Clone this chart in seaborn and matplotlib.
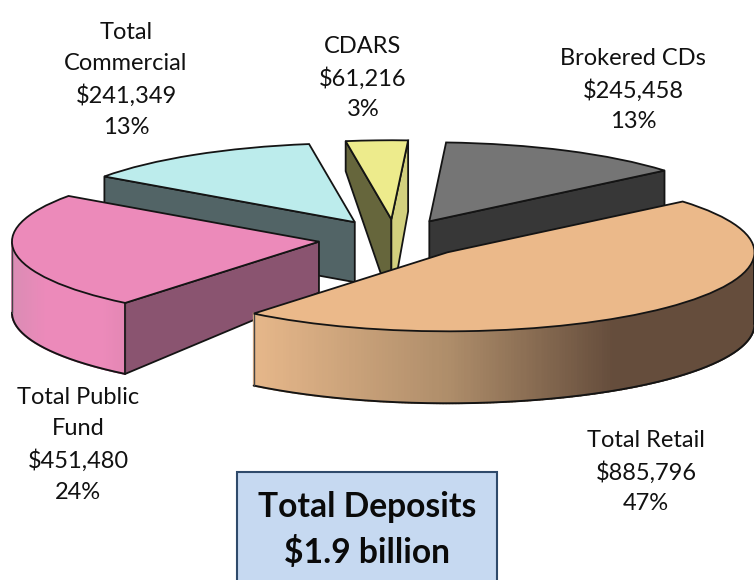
import numpy as np
import matplotlib
matplotlib.use('Agg')
import matplotlib.pyplot as plt
import seaborn as sns
from matplotlib.colors import LinearSegmentedColormap
from matplotlib.patches import Rectangle

names = ['Brokered CDs', 'CDARS', 'Total\nCommercial', 'Total Public\nFund', 'Total Retail']
values = [245458, 61216, 241349, 451480, 885796]
amounts = ['$245,458', '$61,216', '$241,349', '$451,480', '$885,796']
percents = ['13%', '3%', '13%', '24%', '47%']
total_text = 'Total Deposits\n$1.9 billion'

top_colors = ['#757575', '#EDEB8C', '#BCECEC', '#EC8ABA', '#EBB98A']
label_pos = [(633, 90), (363, 78), (126, 80), (78, 445), (646, 472)]

W, H = 754, 580
CX, CY, RX, RY = 395, 239, 307, 79
EDGE = '#141414'

sns.set_theme(style='white')
plt.rcParams['font.family'] = ['Lato', 'DejaVu Sans']

fig = plt.figure(figsize=(W / 100, H / 100), dpi=100, facecolor='white')
ax = fig.add_axes([0, 0, 1, 1])

wedges, _ = ax.pie(values, startangle=40, counterclock=True,
                   explode=[0.25, 0.25, 0.25, 0.25, 0.24],
                   colors=sns.color_palette(top_colors),
                   wedgeprops={'edgecolor': EDGE, 'linewidth': 1.3})
ax.set_aspect('auto')
ax.set_xlim(-CX / RX, (W - CX) / RX)
ax.set_ylim((CY - H) / RY, CY / RY)
ax.axis('off')


def rim(w, ang):
    a = np.radians(ang)
    return w.center[0] + w.r * np.cos(a), w.center[1] + w.r * np.sin(a)


def side_face(w, ang, d_apex, d_rim, color, z):
    # flat cut face going from the apex out to the rim
    x0, y0 = w.center
    x1, y1 = rim(w, ang)
    ax.fill([x0, x1, x1, x0], [y0, y1, y1 - d_rim / RY, y0 - d_apex / RY],
            facecolor=color, edgecolor=EDGE, linewidth=1.3, zorder=z, joinstyle='round')


def outer_wall(w, a0, a1, depth, cmap, z):
    # curved wall, drawn as thin strips so the shading follows x
    angs = np.linspace(a0, a1, 220)
    xs, ys = rim(w, angs)
    xpx = xs * RX + CX
    for i in range(len(angs) - 1):
        c = cmap((xpx[i] + xpx[i + 1]) / 2)
        ax.fill([xs[i], xs[i + 1], xs[i + 1], xs[i]],
                [ys[i], ys[i + 1], ys[i + 1] - depth / RY, ys[i] - depth / RY],
                facecolor=c, edgecolor=c, linewidth=1.2, zorder=z)
    ax.plot(xs, ys - depth / RY, color=EDGE, lw=1.4, zorder=z + 0.1)
    ax.plot([xs[0], xs[0]], [ys[0], ys[0] - depth / RY], color='#444444', lw=1.0, zorder=z + 0.1)
    ax.plot([xs[-1], xs[-1]], [ys[-1], ys[-1] - depth / RY], color=EDGE, lw=1.3, zorder=z + 0.1)


brokered, cdars, commercial, public, retail = wedges

side_face(brokered, brokered.theta1, 60, 60, '#373737', 1)
brokered.set_zorder(2)

side_face(commercial, commercial.theta2, 60, 60, '#526466', 3)
commercial.set_zorder(4)

side_face(cdars, cdars.theta2, 85, 30, '#66663C', 5)
side_face(cdars, cdars.theta1, 85, 71, '#D2D07E', 5)
cdars.set_zorder(6)

pink_map = LinearSegmentedColormap.from_list('pink', [(0, '#DA8CB4'), (0.3, '#EC8ABA'), (0.8, '#EC8ABA'), (1, '#E487B4')])
tan_map = LinearSegmentedColormap.from_list('tan', [(0, '#E6B78A'), (0.39, '#AE8D6A'), (0.72, '#654D3C'), (1, '#654D3C')])

side_face(public, public.theta2, 51, 71, '#8A5470', 7)
outer_wall(public, 180, public.theta2, 71, lambda x: pink_map((x - 13) / 113), 7.5)
public.set_zorder(8)

outer_wall(retail, retail.theta1, 360, 72, lambda x: tan_map((x - 256) / 498), 9)
retail.set_zorder(10)

for name, amount, pct, (x, y) in zip(names, amounts, percents, label_pos):
    fig.text(x / W, 1 - y / H, f'{name}\n{amount}\n{pct}', ha='center', va='center',
             fontsize=17, color='#111111', linespacing=1.56)

fig.add_artist(Rectangle((237 / W, -0.02), 260 / W, 1 - 472 / H + 0.02, transform=fig.transFigure,
                         facecolor='#C6D9F1', edgecolor='#2F4A6B', linewidth=1.5))
fig.text(367 / W, 1 - 530 / H, total_text, ha='center', va='center', fontsize=24.2,
         fontweight='bold', color='#0A0A0A', linespacing=1.45)

fig.savefig('out.png', dpi=100)
